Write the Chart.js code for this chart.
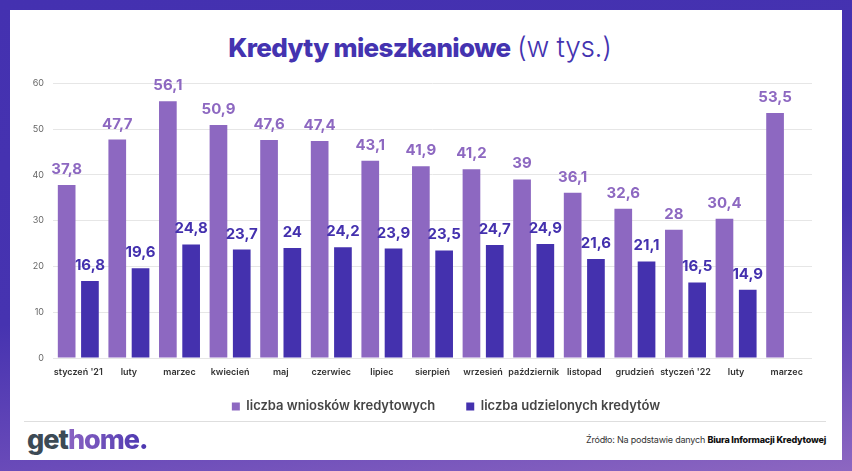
<!DOCTYPE html>
<html>
<head>
<meta charset="utf-8">
<script src="https://cdn.jsdelivr.net/npm/chart.js@4/dist/chart.umd.min.js"></script>
<style>
  html, body { margin: 0; padding: 0; }
  body {
    width: 852px; height: 471px; position: relative; overflow: hidden;
    background: linear-gradient(172deg, #4431b0 0%, #4633b0 55%, #6a4bb9 80%, #8d67c1 100%);
    font-family: Inter, "Open Sans", sans-serif;
  }
  #panel { position: absolute; left: 10px; top: 10px; width: 832px; height: 450px; background: #fff; }
  #title { position: absolute; left: -6px; top: 30px; width: 852px; text-align: center; font-size: 26px; color: #4433b0; letter-spacing: -0.7px; line-height: 34px; }
  #title b { font-weight: 800; }
  #title span { font-weight: 300; font-size: 28px; letter-spacing: -0.3px; }
  #wrap { position: absolute; left: 10px; top: 60px; width: 832px; height: 358px; }
  #sep { position: absolute; left: 24px; top: 421px; width: 802px; height: 1px; background: #dedede; }
  #logo { position: absolute; left: 27px; top: 424px; font-size: 27px; font-weight: 800; letter-spacing: -1px; line-height: 32px; }
  #logo .g { color: #3c4a55; }
  #logo .h { background: linear-gradient(90deg, #8a63c2, #4a36b0); -webkit-background-clip: text; background-clip: text; color: transparent; }
  #src { position: absolute; right: 26px; top: 434px; font-size: 9px; color: #333; letter-spacing: -0.2px; }
  #src b { font-weight: 800; color: #111; }
</style>
</head>
<body>
<div id="panel"></div>
<div id="title"><b>Kredyty mieszkaniowe</b> <span>(w tys.)</span></div>
<div id="wrap"><canvas id="c"></canvas></div>
<div id="sep"></div>
<div id="logo"><span class="g">get</span><span class="h">home.</span></div>
<div id="src">Źródło: Na podstawie danych <b>Biura Informacji Kredytowej</b></div>
<script>
const categories = ["styczeń '21", "luty", "marzec", "kwiecień", "maj", "czerwiec", "lipiec", "sierpień", "wrzesień", "październik", "listopad", "grudzień", "styczeń '22", "luty", "marzec"];
const seriesNames = ["liczba wniosków kredytowych", "liczba udzielonych kredytów"];
const applications = [37.8, 47.7, 56.1, 50.9, 47.6, 47.4, 43.1, 41.9, 41.2, 39, 36.1, 32.6, 28, 30.4, 53.5];
const granted = [16.8, 19.6, 24.8, 23.7, 24, 24.2, 23.9, 23.5, 24.7, 24.9, 21.6, 21.1, 16.5, 14.9, null];
const yTicks = [0, 10, 20, 30, 40, 50, 60];

const colors = ["#8d68c1", "#4431ae"];

const valueLabels = {
  id: 'valueLabels',
  afterDatasetsDraw(chart) {
    const ctx = chart.ctx;
    ctx.save();
    ctx.font = "700 15px Inter, sans-serif";
    ctx.textAlign = 'center';
    ctx.textBaseline = 'bottom';
    chart.data.datasets.forEach((ds, i) => {
      const meta = chart.getDatasetMeta(i);
      ctx.fillStyle = colors[i];
      meta.data.forEach((el, j) => {
        const v = ds.data[j];
        if (v === null || v === undefined) return;
        ctx.fillText(String(v).replace('.', ','), el.x, el.y - 8);
      });
    });
    ctx.restore();
  }
};

const legendShift = {
  id: 'legendShift',
  afterUpdate(chart) {
    if (chart.legend) { chart.legend.left += 35; chart.legend.right += 35; }
  }
};

new Chart(document.getElementById('c'), {
  type: 'bar',
  data: {
    labels: categories,
    datasets: [
      { label: seriesNames[0], data: applications, backgroundColor: colors[0], categoryPercentage: 0.92, barPercentage: 0.76 },
      { label: seriesNames[1], data: granted, backgroundColor: colors[1], categoryPercentage: 0.92, barPercentage: 0.76 }
    ]
  },
  options: {
    responsive: true,
    maintainAspectRatio: false,
    animation: false,
    layout: { padding: { top: 23.3, right: 30, left: 0, bottom: 0 } },
    plugins: {
      tooltip: { enabled: false },
      legend: {
        position: 'bottom',
        maxHeight: 36,
        labels: {
          boxWidth: 8, boxHeight: 8, padding: 18,
          color: '#454545',
          font: { family: 'Inter', size: 13, weight: '600' },
          generateLabels(chart) {
            const items = Chart.defaults.plugins.legend.labels.generateLabels(chart);
            if (items.length) items[0].text = items[0].text + '\u2002\u2002';
            return items;
          }
        }
      }
    },
    scales: {
      x: {
        grid: { display: false, drawTicks: false },
        border: { display: false },
        ticks: { color: '#333', font: { family: 'Inter', size: 9, weight: '600' }, padding: 9, maxRotation: 0, autoSkip: false },
        afterFit(s) { s.height = 24; }
      },
      y: {
        min: 0, max: 60,
        afterBuildTicks(s) { s.ticks = yTicks.map(v => ({ value: v })); },
        grid: { color: '#e6e6e6', drawTicks: false },
        border: { display: false },
        ticks: { color: '#666', font: { family: 'Inter', size: 9 }, padding: 9 },
        afterFit(s) { s.width = 43; }
      }
    }
  },
  plugins: [valueLabels, legendShift]
});
</script>
</body>
</html>
